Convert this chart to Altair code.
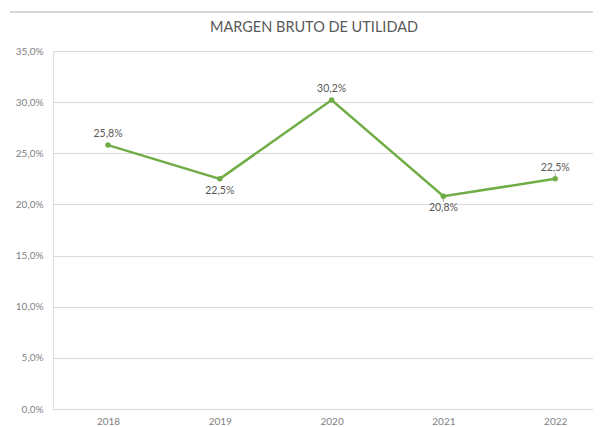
import altair as alt
import pandas as pd

title_text = "MARGEN BRUTO DE UTILIDAD"
years = [2018, 2019, 2020, 2021, 2022]
margins = [0.258, 0.225, 0.302, 0.208, 0.225]
label_pos = ["above", "below", "above", "below", "above"]
leader = [0, 0, 0, -1, 1]
y_ticks = [0.0, 0.05, 0.10, 0.15, 0.20, 0.25, 0.30, 0.35]

df = pd.DataFrame({"year": years, "margin": margins, "pos": label_pos, "leader": leader})

FONT = "Lato"
GREEN = "#70AD47"
W, H = 540, 358

x_enc = alt.X("year:Q", scale=alt.Scale(domain=[2017.508, 2022.338], nice=False, zero=False),
              axis=alt.Axis(values=years, format="d", grid=False, domain=False, ticks=False,
                            labelPadding=7, labelFontSize=10, labelColor="#7f7f7f",
                            labelFont=FONT, title=None))
y_scale = alt.Scale(domain=[0, 0.35], nice=False)
y_enc = alt.Y("margin:Q", scale=y_scale,
              axis=alt.Axis(values=y_ticks, labelExpr="replace(format(datum.value, '.1%'), '.', ',')",
                            grid=True, gridColor="#d9d9d9", gridWidth=1, domain=False, ticks=False,
                            labelPadding=10, labelFontSize=10, labelColor="#7f7f7f",
                            labelFont=FONT, title=None))

base = alt.Chart(df).encode(x=x_enc, y=y_enc)

line = base.mark_line(color=GREEN, strokeWidth=2.5)
pts = base.mark_point(color=GREEN, filled=True, size=30, opacity=1)

lab = base.transform_calculate(
    txt="replace(format(datum.margin, '.1%'), '.', ',')"
)
above = lab.transform_filter(alt.datum.pos == "above").mark_text(
    dy=-11, font=FONT, fontSize=10.5, color="#595959").encode(text="txt:N")
below = lab.transform_filter(alt.datum.pos == "below").mark_text(
    dy=12, font=FONT, fontSize=10.5, color="#595959").encode(text="txt:N")

leaders = alt.Chart(df).transform_filter(alt.datum.leader != 0).transform_calculate(
    y1="datum.margin + datum.leader * 0.0015",
    y2="datum.margin + datum.leader * 0.0055",
).mark_rule(color="#a6a6a6", strokeWidth=1).encode(
    x=alt.X("year:Q"), y=alt.Y("y1:Q", scale=y_scale), y2="y2:Q")

border = alt.Chart(df).mark_rule(color="#d6d6d6", strokeWidth=1).encode(
    x=alt.value(-43), x2=alt.value(W), y=alt.value(-39))

title = alt.Chart(pd.DataFrame({"t": [title_text]})).mark_text(
    font=FONT, fontSize=14.5, color="#595959", align="center", baseline="middle"
).encode(text="t:N", x=alt.value(261), y=alt.value(-23))

chart = alt.layer(border, title, leaders, line, pts, above, below).properties(
    width=W, height=H,
    autosize=alt.AutoSizeParams(type="none"),
    padding={"left": 45, "top": 43, "right": 0, "bottom": 18},
).configure_view(stroke=None).configure(background="white")

chart.save("out.html", embed_options={"renderer": "svg", "actions": False})
